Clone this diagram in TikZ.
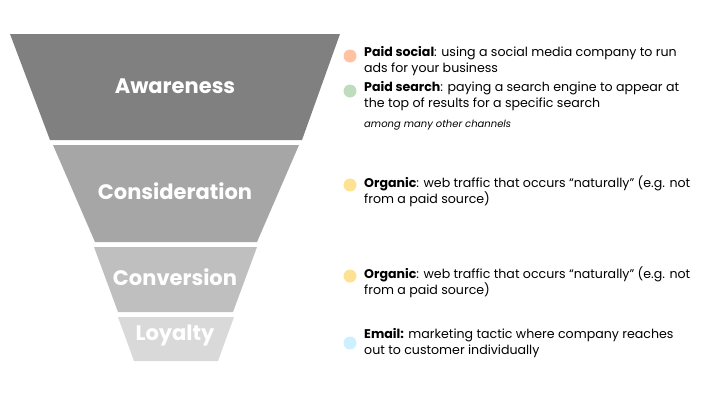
\documentclass[tikz,border=0pt]{standalone}
\usepackage{fontspec}
\setmainfont{Poppins}
\begin{document}
\begin{tikzpicture}[x=1pt,y=-1pt,
  seg/.style={draw=none},
  lvl/.style={text=white,font=\bfseries\fontsize{21}{24}\selectfont},
  desc/.style={anchor=north west,align=left,inner sep=0pt,font=\fontsize{12.6}{16}\selectfont},
  dot/.style={circle,minimum size=13pt,inner sep=0pt}]
\useasboundingbox (0,0) rectangle (720,405);
\fill[fill=black!50] (10,34) -- (340,34) -- (302,140) -- (50,140) -- cycle;
\fill[fill=black!35] (53,145) -- (299,145) -- (257,242) -- (95,242) -- cycle;
\fill[fill=black!25] (94,247) -- (257,247) -- (233,312) -- (118,312) -- cycle;
\fill[fill=black!15] (118,317) -- (234,317) -- (218,361) -- (134,361) -- cycle;
\node[lvl] (aw) at (175,86) {Awareness};
\node[lvl] (co) at (175,191) {Consideration};
\node[lvl] (cv) at (175,277) {Conversion};
\node[lvl] (lo) at (175,336) {Loyalty};
\node[dot,fill=orange!30!white!90!red] (b1) at (350,56) {};
\node[dot,fill=green!45!black!25!white] (b2) at (350,91) {};
\node[dot,fill=yellow!50!orange!40!white] (b3) at (350,185) {};
\node[dot,fill=yellow!50!orange!40!white] (b4) at (350,276) {};
\node[dot,fill=blue!30!cyan!20!white] (b5) at (350,343) {};
\node[desc] (t1) at (364,46) {\textbf{Paid social}: using a social media company to run\\ads for your business};
\node[desc] (t2) at (364,81) {\textbf{Paid search}: paying a search engine to appear at\\the top of results for a specific search};
\node[desc,font=\itshape\fontsize{10}{12}\selectfont] (t3) at (364,120) {among many other channels};
\node[desc] (t4) at (364,176) {\textbf{Organic}: web traffic that occurs “naturally” (e.g. not\\from a paid source)};
\node[desc] (t5) at (364,267) {\textbf{Organic}: web traffic that occurs “naturally” (e.g. not\\from a paid source)};
\node[desc] (t6) at (364,328) {\textbf{Email:} marketing tactic where company reaches\\out to customer individually};
\end{tikzpicture}
\end{document}
